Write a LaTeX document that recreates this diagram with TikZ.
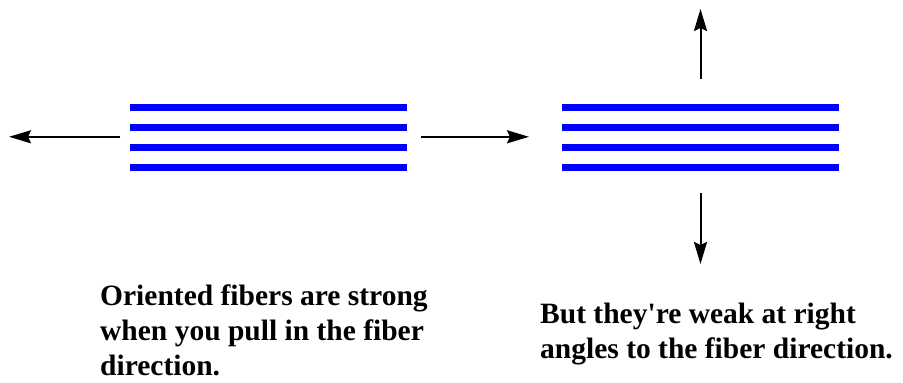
\documentclass[tikz,border=0pt]{standalone}
\usepackage{fontspec}
\setmainfont{Liberation Serif}
\usetikzlibrary{arrows.meta}
\begin{document}
\begin{tikzpicture}[x=1pt,y=-1pt,
  fiber/.style={draw=blue,line width=7pt},
  pull/.style={draw=black,line width=2pt,-{Stealth[length=22pt,width=13pt,inset=3pt]}},
  caption/.style={anchor=base west,inner sep=0pt,font=\fontsize{29.5}{35}\selectfont\bfseries}]
\useasboundingbox (0,0) rectangle (903,383);
% left fiber bundle
\foreach \y [count=\i] in {107,127.3,147.5,167.3}{
  \draw[fiber] (130,\y) coordinate (L\i w) -- (406.5,\y) coordinate (L\i e);
}
% right fiber bundle
\foreach \y [count=\i] in {107,127.3,147.5,167.3}{
  \draw[fiber] (562,\y) coordinate (R\i w) -- (839,\y) coordinate (R\i e);
}
% arrow coordinates
\coordinate (lastart) at (120,136.8);
\coordinate (latip) at (9,136.8);
\coordinate (rastart) at (421,136.8);
\coordinate (ratip) at (529,136.8);
\coordinate (uastart) at (700.5,79);
\coordinate (uatip) at (700.5,9);
\coordinate (dastart) at (700.5,193);
\coordinate (datip) at (700.5,264);
\draw[pull] (lastart) -- (latip);
\draw[pull] (rastart) -- (ratip);
\draw[pull] (uastart) -- (uatip);
\draw[pull] (dastart) -- (datip);
% captions
\node[caption] (l1) at (100,305) {Oriented fibers are strong};
\node[caption] (l2) at (100,340) {when you pull in the fiber};
\node[caption] (l3) at (100,375) {direction.};
\node[caption] (r1) at (540,323) {But they\textquotesingle re weak at right};
\node[caption] (r2) at (540,358) {angles to the fiber direction.};
\end{tikzpicture}
\end{document}
